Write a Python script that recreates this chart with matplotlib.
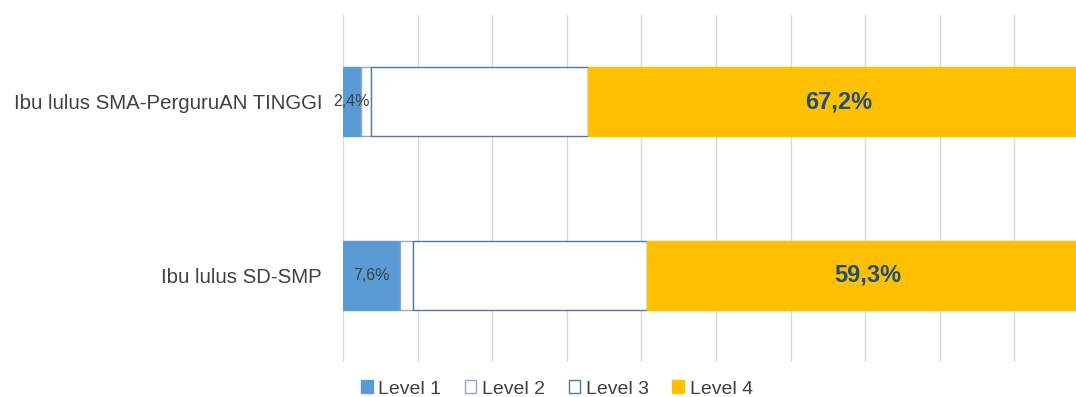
import matplotlib
matplotlib.use("Agg")
import matplotlib.pyplot as plt
from matplotlib.patches import Patch
import numpy as np

plt.rcParams["font.family"] = ["Liberation Sans", "DejaVu Sans"]

categories = ["Ibu lulus SD-SMP", "Ibu lulus SMA-PerguruAN TINGGI"]
levels = ["Level 1", "Level 2", "Level 3", "Level 4"]
level1 = [7.6, 2.4]
level2 = [1.8, 1.4]
level3 = [31.3, 29.0]
level4 = [59.3, 67.2]

faces = ["#5b9bd5", "white", "white", "#ffc000"]
edges = ["#5b9bd5", "#8eaacb", "#4f79a8", "#ffc000"]

W, H = 1076, 397
fig = plt.figure(figsize=(W / 100, H / 100), dpi=100)
# plot area runs past the right edge, so the last bit of the 100% bars is cut off
ax = fig.add_axes([343 / W, 1 - 362 / H, 746 / W, 347 / H])

y = np.arange(len(categories))
left = np.zeros(len(categories))
for name, vals, fc, ec in zip(levels, [level1, level2, level3, level4], faces, edges):
    vals = np.array(vals)
    ax.barh(y, vals, left=left, height=0.40, color=fc, edgecolor=ec, linewidth=1.0, zorder=3)
    left += vals

# value labels: level 1 small, level 4 bold
for i in range(len(categories)):
    ax.text(level1[i] / 2, y[i], f"{level1[i]:.1f}%".replace(".", ","),
            ha="center", va="center", fontsize=11.5, color="#404040", zorder=4)
    x4 = level1[i] + level2[i] + level3[i] + level4[i] / 2
    ax.text(x4, y[i], f"{level4[i]:.1f}%".replace(".", ","),
            ha="center", va="center", fontsize=17, fontweight="bold", color="#1f4e79", zorder=4)

ax.set_xlim(0, 100)
ax.set_ylim(-0.5, 1.5)
ax.set_xticks(np.arange(0, 101, 10))
ax.set_xticklabels([])
ax.grid(axis="x", color="#d9d9d9", linewidth=1.0, zorder=0)
ax.set_yticks(y)
ax.set_yticklabels(categories, fontsize=14.7, color="#404040")
ax.tick_params(axis="both", length=0, pad=15)
for s in ax.spines.values():
    s.set_visible(False)

handles = [Patch(facecolor=fc, edgecolor=ec, label=lab) for lab, fc, ec in zip(levels, faces, edges)]
fig.legend(handles=handles, loc="center", bbox_to_anchor=(557 / W, 1 - 389 / H), ncol=4,
           frameon=False, fontsize=14, handlelength=0.6, handleheight=0.6,
           handletextpad=0.3, columnspacing=1.2, labelcolor="#404040")

fig.savefig("out.png", dpi=100)
